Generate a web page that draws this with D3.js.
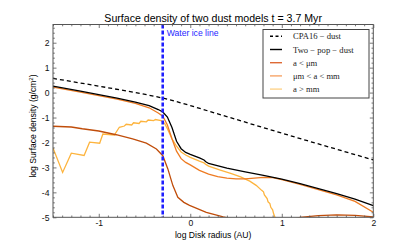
<!DOCTYPE html>
<html>
<head>
<meta charset="utf-8">
<script src="https://cdn.jsdelivr.net/npm/d3@7"></script>
<style>
  body { margin: 0; background: #fff; }
  text { font-family: "Liberation Sans", Arial, sans-serif; }
  .legend text { font-family: "Liberation Serif", "DejaVu Serif", serif; }
</style>
</head>
<body>
<script>
// values (log10 r in AU, log10 sigma in g/cm^2)
var cpaX = [-1.5, -1.0, -0.6, -0.4, -0.3, -0.2, 0.0, 0.65, 1.28, 2.0];
var cpaY = [0.57, 0.26, 0.0, -0.14, -0.22, -0.31, -0.52, -1.24, -1.93, -2.70];

var twoPopX = [-1.5, -1.2, -1.0, -0.8, -0.6, -0.45, -0.35, -0.3, -0.25, -0.2, -0.15, -0.1, -0.05, 0.0, 0.1, 0.15, 0.17, 0.2, 0.4, 0.6, 0.8, 1.0, 1.2, 1.4, 1.6, 1.8, 2.0];
var twoPopY = [0.26, 0.06, -0.08, -0.22, -0.38, -0.52, -0.68, -0.78, -0.98, -1.4, -1.95, -2.25, -2.4, -2.48, -2.62, -2.7, -2.77, -2.84, -3.03, -3.18, -3.32, -3.47, -3.65, -3.85, -4.05, -4.27, -4.53];

var smallX = [-1.5, -1.3, -1.18, -1.0, -0.81, -0.63, -0.48, -0.37, -0.3, -0.245, -0.19, -0.136, -0.07, -0.008, 0.175, 0.36, 0.5, 1.0, 1.2, 1.4, 1.6, 1.8, 2.0];
var smallY = [-1.35, -1.38, -1.45, -1.54, -1.69, -1.86, -2.03, -2.26, -2.53, -3.06, -3.73, -4.2, -4.4, -4.52, -4.8, -4.98, -5.1, -5.2, -5.0, -4.93, -4.9, -4.92, -4.98];

var midX = [-1.5, -1.2, -1.0, -0.8, -0.6, -0.45, -0.35, -0.3, -0.25, -0.2, -0.15, -0.1, -0.05, 0.0, 0.1, 0.2, 0.3, 0.4, 0.5, 0.6, 0.7, 0.8, 0.9, 1.0, 1.2, 1.4, 1.6, 1.8, 2.0];
var midY = [0.22, 0.02, -0.12, -0.26, -0.43, -0.61, -0.82, -0.95, -1.3, -1.85, -2.35, -2.65, -2.8, -2.9, -3.12, -3.27, -3.37, -3.43, -3.46, -3.46, -3.43, -3.4, -3.41, -3.49, -3.68, -3.89, -4.1, -4.36, -4.8];

var bigX = [-1.5, -1.395, -1.3, -1.16, -1.1, -0.99, -0.955, -0.83, -0.775, -0.72, -0.7, -0.64, -0.62, -0.56, -0.54, -0.48, -0.46, -0.4, -0.38, -0.32, -0.28, -0.25, -0.2, -0.15, -0.1, -0.05, 0.0, 0.1, 0.15, 0.17, 0.2, 0.32, 0.45, 0.55, 0.65, 0.72, 0.78, 0.8, 0.81, 0.84, 0.85, 0.87, 0.88, 0.9, 0.91, 0.925, 0.95];
var bigY = [-2.22, -3.2, -2.43, -2.52, -1.99, -2.03, -1.66, -1.7, -1.39, -1.34, -1.27, -1.3, -1.21, -1.24, -1.15, -1.17, -1.1, -1.12, -1.08, -1.12, -1.24, -1.45, -1.85, -2.15, -2.38, -2.5, -2.6, -2.75, -2.82, -2.88, -2.95, -3.1, -3.25, -3.38, -3.55, -3.72, -3.92, -3.98, -4.1, -4.25, -4.38, -4.45, -4.6, -4.7, -4.85, -5.0, -5.3];

var iceLine = -0.301;
var xTicks = [-1, 0, 1, 2];
var yTicks = [-5, -4, -3, -2, -1, 0, 1, 2];

var series = [
  {name: "CPA16 \u2212 dust", xs: cpaX, ys: cpaY, color: "#000", legend: "#000", dash: "4,3"},
  {name: "Two \u2212 pop \u2212 dust", xs: twoPopX, ys: twoPopY, color: "#000", legend: "#000", dash: null},
  {name: "a < \u03bcm", xs: smallX, ys: smallY, color: "#c04d0a", legend: "#de6a35", dash: null},
  {name: "\u03bcm < a < mm", xs: midX, ys: midY, color: "#ee7b22", legend: "#f6a468", dash: null},
  {name: "a > mm", xs: bigX, ys: bigY, color: "#fdb43e", legend: "#fed38c", dash: null}
];

var svgW = 415, svgH = 249;
var pL = 53, pR = 373.3, pT = 24.5, pB = 217.3;

var x = d3.scaleLinear().domain([-1.5, 2]).range([pL, pR]);
var y = d3.scaleLinear().domain([-5, 2.73]).range([pB, pT]);

var svg = d3.select("body").append("svg")
    .attr("width", svgW)
    .attr("height", svgH);

svg.append("clipPath").attr("id", "plot")
  .append("rect")
    .attr("x", pL).attr("y", pT)
    .attr("width", pR - pL).attr("height", pB - pT);

var line = d3.line()
    .x(function(d) { return x(d[0]); })
    .y(function(d) { return y(d[1]); });

// draw lines, back to front like the original
var order = [4, 3, 2, 1, 0];
var lines = svg.append("g").attr("clip-path", "url(#plot)");
order.forEach(function(i) {
  var s = series[i];
  var pts = s.xs.map(function(v, k) { return [v, s.ys[k]]; });
  lines.append("path")
      .attr("d", line(pts))
      .attr("fill", "none")
      .attr("stroke", s.color)
      .attr("stroke-width", 1.3)
      .attr("stroke-dasharray", s.dash);
});

// water ice line
lines.append("line")
    .attr("x1", x(iceLine)).attr("x2", x(iceLine))
    .attr("y1", pT).attr("y2", pB)
    .attr("stroke", "#1f1fff")
    .attr("stroke-width", 2.6)
    .attr("stroke-dasharray", "4,2");

svg.append("text")
    .attr("x", x(iceLine) + 4)
    .attr("y", 35.5)
    .attr("font-size", 8.6)
    .attr("fill", "#1f1fff")
    .text("Water ice line");

// axes, ticks inward on all four sides
var frame = "#555";
function minor(step, lo, hi) {
  var out = [];
  for (var v = Math.ceil(lo / step) * step; v <= hi + 1e-9; v += step) out.push(+v.toFixed(3));
  return out;
}
var xMinor = minor(0.1, -1.5, 2).filter(function(v) { return xTicks.indexOf(v) < 0; });
var yMinor = minor(0.2, -5, 2.73).filter(function(v) { return yTicks.indexOf(v) < 0; });

function noDomain(g) { g.select(".domain").remove(); }

svg.append("g")
    .attr("transform", "translate(0," + pB + ")")
    .call(d3.axisBottom(x).tickValues(xTicks).tickSize(-3.5).tickPadding(3)
      .tickFormat(function(d) { return String(d); }))
    .call(noDomain);
svg.append("g")
    .attr("transform", "translate(0," + pB + ")")
    .call(d3.axisBottom(x).tickValues(xMinor).tickSize(-1.8).tickFormat(""))
    .call(noDomain);
svg.append("g")
    .attr("transform", "translate(0," + pT + ")")
    .call(d3.axisTop(x).tickValues(xTicks).tickSize(-3.5).tickFormat(""))
    .call(noDomain);
svg.append("g")
    .attr("transform", "translate(0," + pT + ")")
    .call(d3.axisTop(x).tickValues(xMinor).tickSize(-1.8).tickFormat(""))
    .call(noDomain);

svg.append("g")
    .attr("transform", "translate(" + pL + ",0)")
    .call(d3.axisLeft(y).tickValues(yTicks).tickSize(-3.5).tickPadding(3.5)
      .tickFormat(function(d) { return String(d); }))
    .call(noDomain);
svg.append("g")
    .attr("transform", "translate(" + pL + ",0)")
    .call(d3.axisLeft(y).tickValues(yMinor).tickSize(-1.8).tickFormat(""))
    .call(noDomain);
svg.append("g")
    .attr("transform", "translate(" + pR + ",0)")
    .call(d3.axisRight(y).tickValues(yTicks).tickSize(-3.5).tickFormat(""))
    .call(noDomain);
svg.append("g")
    .attr("transform", "translate(" + pR + ",0)")
    .call(d3.axisRight(y).tickValues(yMinor).tickSize(-1.8).tickFormat(""))
    .call(noDomain);

svg.selectAll(".tick line").attr("stroke", frame).attr("stroke-width", 0.8);
svg.selectAll(".tick text").attr("font-size", 8.6).attr("fill", "#111")
    .style("font-family", "'Liberation Sans', Arial, sans-serif");

svg.append("rect")
    .attr("x", pL).attr("y", pT)
    .attr("width", pR - pL).attr("height", pB - pT)
    .attr("fill", "none").attr("stroke", frame).attr("stroke-width", 1);

// title and labels
svg.append("text")
    .attr("x", (pL + pR) / 2).attr("y", 21.5)
    .attr("text-anchor", "middle")
    .attr("font-size", 10.6)
    .text("Surface density of two dust models t = 3.7 Myr");

svg.append("text")
    .attr("x", (pL + pR) / 2).attr("y", 237.5)
    .attr("text-anchor", "middle")
    .attr("font-size", 8.6)
    .text("log Disk radius (AU)");

var yl = svg.append("text")
    .attr("transform", "translate(36," + 126 + ") rotate(-90)")
    .attr("text-anchor", "middle")
    .attr("font-size", 8.6);
yl.append("tspan").text("log Surface density (g/cm");
yl.append("tspan").attr("font-size", 6).attr("dy", -3.5).text("2");
yl.append("tspan").attr("dy", 3.5).text(")");

// legend
var lg = svg.append("g").attr("class", "legend");
lg.append("rect")
    .attr("x", 263).attr("y", 29.5)
    .attr("width", 106).attr("height", 68.5)
    .attr("fill", "#fff").attr("stroke", "#444").attr("stroke-width", 1);
series.forEach(function(s, i) {
  var ly = 36.3 + i * 13.2;
  lg.append("line")
      .attr("x1", 270).attr("x2", 282)
      .attr("y1", ly).attr("y2", ly)
      .attr("stroke", s.legend)
      .attr("stroke-width", 1.4)
      .attr("stroke-dasharray", s.dash ? "3,2.5" : null);
  lg.append("text")
      .attr("x", 293).attr("y", ly + 3)
      .attr("font-size", 8.6)
      .attr("fill", "#222")
      .text(s.name);
});
</script>
</body>
</html>
